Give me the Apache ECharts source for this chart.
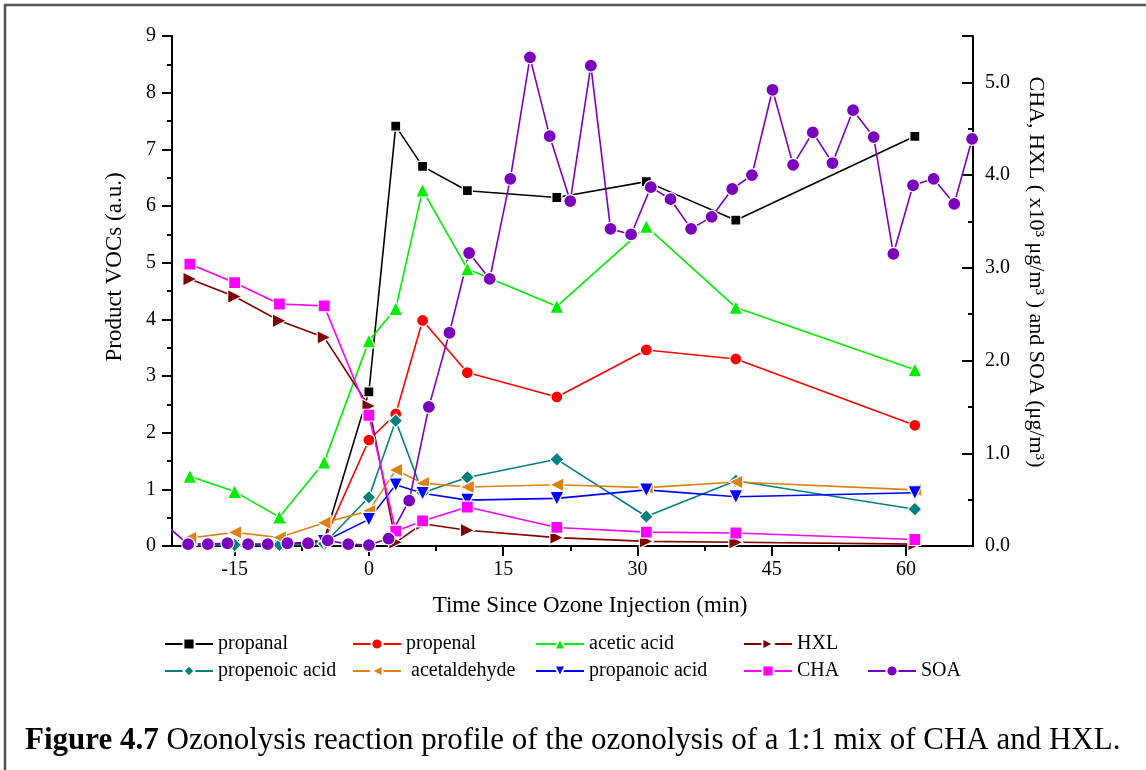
<!DOCTYPE html>
<html>
<head>
<meta charset="UTF-8">
<title>Ozonolysis reaction profile</title>
<script src="https://cdn.jsdelivr.net/npm/echarts@6.0.0/dist/echarts.min.js"></script>
<style>
  html, body { margin: 0; padding: 0; background: #fff; }
  #chart { width: 1146px; height: 770px; }
</style>
</head>
<body>
<div id="chart"></div>
<script>
// 采样时间 (min)
var timesVoc = [-20, -15, -10, -5, 0, 3, 6, 11, 21, 31, 41, 61];
var timesLate = [-5, 0, 3, 6, 11, 21, 31, 41, 61];
var timesSoa = [-22.4, -20.2, -18.0, -15.8, -13.5, -11.3, -9.1, -6.8, -4.6, -2.3, 0, 2.2, 4.5, 6.7, 9.0,
  11.2, 13.5, 15.8, 18.0, 20.2, 22.5, 24.8, 27.0, 29.3, 31.5, 33.7, 36.0, 38.3, 40.6, 42.8, 45.1,
  47.4, 49.6, 51.8, 54.1, 56.4, 58.6, 60.8, 63.1, 65.4, 67.4];

// 左轴 (a.u.)
var propanal = [0.03, 0.03, 0.02, 0.1, 2.72, 7.41, 6.70, 6.27, 6.15, 6.43, 5.75, 7.23];
var propenal = [0.1, 1.87, 2.33, 3.98, 3.06, 2.63, 3.46, 3.30, 2.13];
var aceticAcid = [1.23, 0.96, 0.51, 1.48, 3.62, 4.19, 6.28, 4.89, 4.23, 5.64, 4.21, 3.11];
var propenoicAcid = [0.02, 0.02, 0.02, 0.04, 0.86, 2.21, 0.94, 1.21, 1.53, 0.52, 1.15, 0.65];
var acetaldehyde = [0.14, 0.24, 0.15, 0.41, 0.62, 1.34, 1.11, 1.04, 1.08, 1.03, 1.13, 0.99];
var propanoicAcid = [0.08, 0.47, 1.08, 0.93, 0.81, 0.84, 0.99, 0.87, 0.94];

// 右轴 (x10^3 ug/m3, ug/m3)
var hxl = [2.88, 2.69, 2.43, 2.25, 1.51, 0.04, 0.24, 0.17, 0.09, 0.05, 0.04, 0.02];
var cha = [3.04, 2.84, 2.61, 2.59, 1.41, 0.16, 0.27, 0.42, 0.20, 0.15, 0.14, 0.07];
var soa = [0.2, 0.02, 0.02, 0.03, 0.02, 0.02, 0.03, 0.03, 0.06, 0.02, 0.01, 0.08, 0.49, 1.50, 2.30,
  3.16, 2.88, 3.96, 5.27, 4.42, 3.72, 5.18, 3.42, 3.36, 3.87, 3.74, 3.42, 3.55, 3.85, 4.00, 4.92,
  4.11, 4.46, 4.13, 4.70, 4.41, 3.15, 3.89, 3.96, 3.69, 4.39];

// 刻度
var xTicks = [-15, 0, 15, 30, 45, 60];
var xMinorTicks = [-7.5, 7.5, 22.5, 37.5, 52.5];
var rightTicks = [0, 1, 2, 3, 4, 5, 5.5];
var rightLabels = [0, 1, 2, 3, 4, 5];
var rightMinorTicks = [0.5, 1.5, 2.5, 3.5, 4.5];

var FONT = '"Liberation Serif", "Times New Roman", serif';

function pairs(xs, ys) {
  return ys.map(function (v, i) { return [xs[i], v]; });
}

function lineSeries(name, xs, ys, color, symbol, size, rotate, yIdx) {
  return {
    name: name,
    type: 'line',
    xAxisIndex: 0,
    yAxisIndex: yIdx,
    data: pairs(xs, ys),
    symbol: symbol,
    symbolSize: size,
    symbolRotate: rotate,
    showAllSymbol: true,
    animation: false,
    lineStyle: { color: color, width: 1.6 },
    itemStyle: { color: color, borderColor: '#fff', borderWidth: 1.2 }
  };
}

var chart = echarts.init(document.getElementById('chart'));

var legendPos = [
  ['propanal', 164, 634], ['propenal', 352, 634], ['acetic acid', 535, 634], ['HXL', 743, 634],
  ['propenoic acid', 164, 661], ['acetaldehyde', 352, 661], ['propanoic acid', 535, 661],
  ['CHA', 743, 661], ['SOA', 867, 661]
];

var option = {
  backgroundColor: '#fff',
  animation: false,
  grid: { left: 172, right: 173, top: 36, bottom: 224 },
  legend: legendPos.map(function (p) {
    return {
      data: [p[0]],
      left: p[1],
      top: p[2],
      itemWidth: 48,
      itemHeight: 14,
      itemGap: 0,
      padding: 0,
      formatter: p[0] === 'acetaldehyde' ? ' acetaldehyde' : '{name}',
      textStyle: { fontFamily: FONT, fontSize: 20, color: '#000' }
    };
  }),
  xAxis: [{
    type: 'value',
    min: -22,
    max: 67.5,
    position: 'bottom',
    splitLine: { show: false },
    axisLine: { onZero: false, lineStyle: { color: '#000', width: 2 } },
    axisTick: { customValues: xTicks, length: 10, lineStyle: { color: '#000', width: 2 } },
    axisLabel: { customValues: xTicks, margin: 14, fontFamily: FONT, fontSize: 20, color: '#000' }
  }, {
    type: 'value',
    min: -22,
    max: 67.5,
    position: 'bottom',
    splitLine: { show: false },
    axisLine: { show: false, onZero: false },
    axisTick: { customValues: xMinorTicks, length: 5, lineStyle: { color: '#000', width: 2 } },
    axisLabel: { show: false }
  }],
  yAxis: [{
    type: 'value',
    min: 0,
    max: 9,
    interval: 1,
    position: 'left',
    splitLine: { show: false },
    axisLine: { show: true, onZero: false, lineStyle: { color: '#000', width: 2 } },
    axisTick: { length: 10, lineStyle: { color: '#000', width: 2 } },
    minorTick: { show: true, splitNumber: 2, length: 5, lineStyle: { color: '#000', width: 2 } },
    axisLabel: { margin: 16, fontFamily: FONT, fontSize: 20, color: '#000' }
  }, {
    type: 'value',
    min: 0,
    max: 5.5,
    position: 'right',
    splitLine: { show: false },
    axisLine: { show: true, onZero: false, lineStyle: { color: '#000', width: 2 } },
    axisTick: { inside: true, customValues: rightTicks, length: 11, lineStyle: { color: '#000', width: 2 } },
    axisLabel: {
      customValues: rightLabels, margin: 12, fontFamily: FONT, fontSize: 20, color: '#000',
      formatter: function (v) { return v.toFixed(1); }
    }
  }, {
    type: 'value',
    min: 0,
    max: 5.5,
    position: 'right',
    splitLine: { show: false },
    axisLine: { show: false, onZero: false },
    axisTick: { inside: true, customValues: rightMinorTicks, length: 5, lineStyle: { color: '#000', width: 2 } },
    axisLabel: { show: false }
  }],
  series: [
    lineSeries('propanal', timesVoc, propanal, '#000000', 'rect', 10, 0, 0),
    lineSeries('propenal', timesLate, propenal, '#ff0000', 'circle', 12, 0, 0),
    lineSeries('acetic acid', timesVoc, aceticAcid, '#00ee00', 'triangle', 14, 0, 0),
    lineSeries('HXL', timesVoc, hxl, '#800000', 'triangle', 14, -90, 1),
    lineSeries('propenoic acid', timesVoc, propenoicAcid, '#008080', 'diamond', 14, 0, 0),
    lineSeries('acetaldehyde', timesVoc, acetaldehyde, '#dc8214', 'triangle', 14, 90, 0),
    lineSeries('propanoic acid', timesLate, propanoicAcid, '#0000ff', 'triangle', 14, 180, 0),
    lineSeries('CHA', timesVoc, cha, '#ff00ff', 'rect', 12, 0, 1),
    lineSeries('SOA', timesSoa, soa, '#7b00be', 'circle', 13, 0, 1)
  ],
  graphic: [{
    type: 'rect',
    silent: true,
    shape: { x: 5, y: 5, width: 1200, height: 800 },
    style: { fill: null, stroke: '#555', lineWidth: 2.5 }
  }, {
    type: 'text',
    x: 590, y: 606,
    style: {
      text: 'Time Since Ozone Injection (min)', fontFamily: FONT, fontSize: 23, fill: '#000',
      align: 'center', verticalAlign: 'middle'
    }
  }, {
    type: 'text',
    x: 115, y: 267,
    rotation: Math.PI / 2,
    style: {
      text: 'Product VOCs (a.u.)', fontFamily: FONT, fontSize: 23, fill: '#000',
      align: 'center', verticalAlign: 'middle'
    }
  }, {
    type: 'text',
    x: 1036, y: 272,
    rotation: -Math.PI / 2,
    style: {
      text: 'CHA, HXL ( x10³ μg/m³ ) and SOA (μg/m³)', fontFamily: FONT, fontSize: 22, fill: '#000',
      align: 'center', verticalAlign: 'middle'
    }
  }, {
    type: 'text',
    x: 25, y: 741,
    style: {
      text: '{b|Figure 4.7} Ozonolysis reaction profile of the ozonolysis of a 1:1 mix of CHA and HXL.',
      fontFamily: FONT, fontSize: 31, fill: '#000',
      align: 'left', verticalAlign: 'middle',
      rich: { b: { fontFamily: FONT, fontSize: 31, fontWeight: 'bold', fill: '#000' } }
    }
  }]
};

chart.setOption(option);
</script>
</body>
</html>
